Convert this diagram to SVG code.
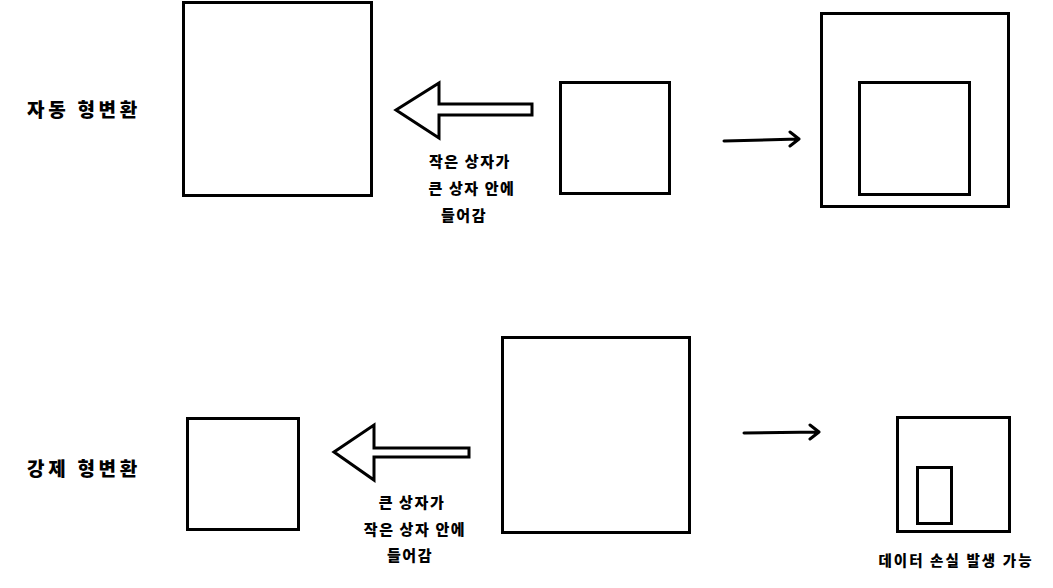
<svg xmlns="http://www.w3.org/2000/svg" width="1053" height="588" viewBox="0 0 1053 588">
<style>
.box{fill:none;stroke:#000;stroke-width:3}
.big{fill:#fff;stroke:#000;stroke-width:3;stroke-linejoin:miter}
.conn{fill:none;stroke:#000;stroke-width:3;stroke-linecap:round;stroke-linejoin:round}
.lbl{font-family:"Noto Sans CJK KR","Noto Sans CJK SC",sans-serif;font-weight:900;fill:#000;text-anchor:middle}
.h{font-size:19px;letter-spacing:3.7px}
.t{font-size:15px;letter-spacing:1.6px}
.s{font-size:14.5px;letter-spacing:2.1px}
</style>
<rect width="1053" height="588" fill="#fff"/>
<g id="label-auto"><text class="lbl h" x="84" y="117">자동 형변환</text></g>
<g id="label-force"><text class="lbl h" x="84" y="476">강제 형변환</text></g>
<g id="box-big-1"><rect class="box" x="183.5" y="2.5" width="188" height="193"/></g>
<g id="box-small-1"><rect class="box" x="560.5" y="82.5" width="109" height="111"/></g>
<g id="box-result-1"><rect class="box" x="821.5" y="13.5" width="187" height="193"/><rect class="box" x="859.5" y="82.5" width="110" height="112"/></g>
<g id="box-big-2"><rect class="box" x="502.5" y="337.5" width="187" height="195"/></g>
<g id="box-small-2"><rect class="box" x="187.5" y="418.5" width="111" height="111"/></g>
<g id="box-result-2"><rect class="box" x="897.5" y="417.5" width="112" height="114"/><rect class="box" x="917.5" y="467.5" width="34" height="56"/></g>
<g id="text-1"><text class="lbl t" x="470" y="167">작은 상자가</text><text class="lbl t" x="472" y="194">큰 상자 안에</text><text class="lbl t" x="464" y="221">들어감</text></g>
<g id="text-2"><text class="lbl t" x="412" y="508">큰 상자가</text><text class="lbl t" x="415" y="535">작은 상자 안에</text><text class="lbl t" x="410" y="561">들어감</text></g>
<g id="text-3"><text class="lbl s" x="956" y="566">데이터 손실 발생 가능</text></g>
<g id="connectors">
<polygon class="big" points="396,110 439,83 439,104 532,104 532,115 439,115 439,138"/>
<polygon class="big" points="334,452 374,425 374,448 469,448 469,457 374,457 374,480"/>
<path class="conn" d="M724,141 L799,139 M790,132 L799,139 L790,146"/>
<path class="conn" d="M744,433 L819,432 M810,425 L819,432 L810,439"/>
</g>
</svg>
